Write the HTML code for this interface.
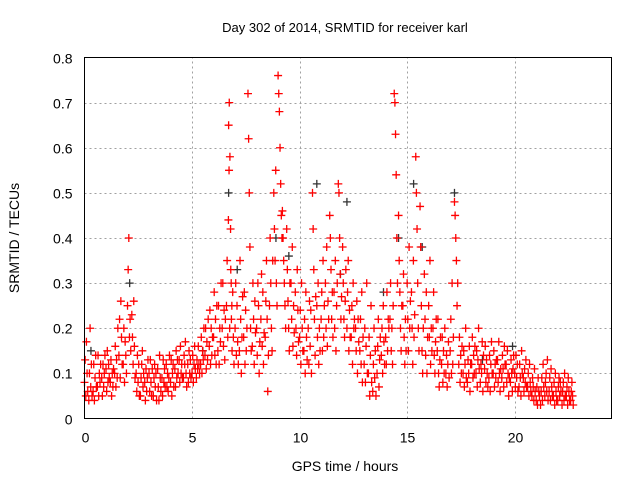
<!DOCTYPE html>
<html><head><meta charset="utf-8"><style>
body{margin:0;background:#fff}
svg{display:block;font-family:"Liberation Sans",sans-serif}
</style></head><body>
<svg id="c" width="640" height="480">
<text x="345" y="32" font-size="13" text-anchor="middle">Day 302 of 2014, SRMTID for receiver karl</text>
<text transform="translate(19,238) rotate(-90)" font-size="14" text-anchor="middle">SRMTID / TECUs</text>
<text x="345" y="471" font-size="14" text-anchor="middle">GPS time / hours</text>
<g id="grid"></g>
<g id="ticks"></g>
<g id="black"></g>
<g id="red"></g>
<rect x="84.5" y="57.5" width="527" height="361" fill="none" stroke="#000"/>
</svg>
<script>
const xTicks=[0,5,10,15,20];
const yTicks=[0,0.1,0.2,0.3,0.4,0.5,0.6,0.7,0.8];
const yTickLabels=["0","0.1","0.2","0.3","0.4","0.5","0.6","0.7","0.8"];
const redHours=[0,0.2,0.4,0.6,0.8,1.0,1.2,1.4,1.6,1.8,2.0,2.2,2.4,2.6,2.8,3.0,3.2,3.4,3.6,3.8,4.0,4.2,4.4,4.6,4.8,5.0,5.2,5.4,5.6,5.8,6.0,6.2,6.4,6.6,6.7,6.8,7.0,7.2,7.4,7.6,7.8,8.0,8.2,8.4,8.6,8.8,9.0,9.2,9.4,9.6,9.8,10.0,10.2,10.4,10.6,10.8,11.0,11.2,11.4,11.6,11.8,12.0,12.2,12.4,12.6,12.8,13.0,13.2,13.4,13.6,13.8,14.0,14.2,14.4,14.6,14.8,15.0,15.2,15.4,15.6,15.8,16.0,16.2,16.4,16.6,16.8,17.0,17.2,17.4,17.6,17.8,18.0,18.2,18.4,18.6,18.8,19.0,19.2,19.4,19.6,19.8,20.0,20.2,20.4,20.6,20.8,21.0,21.2,21.4,21.6,21.8,22.0,22.2,22.4,22.6];
const redValues=[[.08,.13,.05,.17,.1,.06],[.04,.1,.2,.07,.12,.05],[.06,.12,.04,.09,.14,.07],[.07,.14,.05,.1,.08,.12],[.09,.05,.12,.07,.1,.14],[.11,.06,.15,.08,.12,.09],[.08,.13,.05,.1,.07,.11],[.1,.16,.07,.13,.09,.2],[.14,.22,.09,.26,.18,.12],[.12,.2,.08,.17,.14,.1],[.25,.33,.4,.18,.22,.15],[.23,.18,.12,.26,.16,.09],[.1,.06,.14,.08,.12,.05],[.05,.09,.12,.15,.07,.1],[.08,.04,.11,.06,.09,.13],[.1,.06,.13,.08,.05,.11],[.05,.09,.12,.07,.1,.04],[.11,.07,.04,.14,.09,.06],[.09,.05,.13,.08,.11,.07],[.12,.07,.1,.06,.09,.14],[.08,.13,.05,.1,.12,.07],[.11,.07,.15,.09,.13,.1],[.13,.08,.16,.1,.12,.09],[.09,.14,.12,.17,.1,.07],[.12,.08,.15,.1,.13,.09],[.1,.14,.08,.12,.16,.11],[.09,.13,.11,.16,.12,.1],[.12,.18,.1,.15,.13,.2],[.14,.2,.11,.17,.13,.22],[.16,.24,.12,.2,.14,.18],[.18,.28,.14,.22,.12,.25],[.15,.25,.12,.2,.17,.3],[.2,.3,.16,.24,.13,.22],[.25,.35,.18,.44,.55,.2],[.65,.7,.58,.42,.3,.25],[.33,.22,.15,.28,.18,.12],[.2,.3,.14,.25,.17,.12],[.15,.35,.22,.1,.18,.27],[.18,.28,.12,.24,.15,.2],[.72,.62,.5,.38,.2,.15],[.16,.3,.22,.12,.26,.19],[.2,.14,.3,.25,.1,.17],[.22,.32,.16,.28,.12,.19],[.18,.26,.35,.22,.06,.14],[.25,.4,.3,.2,.15,.35],[.5,.42,.35,.55,.3,.25],[.76,.72,.68,.6,.52,.45,.4],[.46,.4,.35,.3,.25,.2],[.42,.33,.26,.2,.15,.3],[.3,.22,.38,.16,.25,.19],[.28,.2,.14,.33,.24,.17],[.18,.24,.12,.3,.2,.15],[.15,.22,.1,.28,.18,.13],[.2,.12,.26,.16,.24,.1],[.5,.42,.33,.22,.14,.27],[.25,.18,.3,.12,.2,.15],[.22,.28,.15,.35,.18,.25],[.3,.2,.38,.16,.26,.22],[.45,.4,.33,.22,.28,.18],[.28,.2,.35,.15,.25,.3],[.52,.5,.4,.32,.22,.27],[.38,.3,.22,.18,.26,.33],[.2,.28,.35,.15,.24,.18],[.18,.25,.12,.3,.2,.22],[.2,.15,.26,.1,.22,.17],[.15,.22,.12,.28,.08,.18],[.12,.2,.08,.16,.3,.1],[.1,.18,.05,.14,.25,.08],[.06,.12,.2,.09,.15,.05],[.1,.16,.22,.07,.13,.18],[.14,.2,.1,.25,.17,.12],[.18,.12,.28,.15,.22,.2],[.22,.3,.15,.2,.12,.25],[.72,.7,.63,.54,.4,.3],[.45,.35,.28,.2,.15,.25],[.25,.32,.18,.12,.22,.15],[.3,.22,.15,.38,.2,.26],[.28,.2,.12,.35,.18,.23],[.58,.5,.42,.3,.2,.15],[.47,.38,.25,.15,.1,.2],[.32,.22,.14,.28,.1,.18],[.25,.18,.35,.12,.2,.15],[.2,.28,.14,.1,.17,.22],[.15,.22,.1,.07,.13,.18],[.12,.18,.08,.15,.1,.2],[.1,.14,.07,.12,.17,.09],[.15,.22,.1,.3,.12,.18],[.48,.45,.4,.35,.25,.3],[.12,.18,.08,.14,.1,.16],[.1,.15,.07,.12,.2,.09],[.08,.13,.1,.16,.06,.12],[.12,.18,.09,.14,.1,.16],[.1,.15,.07,.13,.2,.11],[.08,.12,.1,.17,.06,.14],[.11,.16,.08,.13,.1,.07],[.09,.14,.06,.12,.17,.1],[.1,.15,.07,.12,.09,.13],[.13,.08,.17,.1,.06,.11],[.09,.14,.11,.07,.16,.12],[.12,.08,.15,.1,.05,.09],[.08,.13,.1,.06,.11,.14],[.1,.07,.14,.09,.12,.06],[.07,.12,.09,.05,.15,.1],[.09,.06,.11,.08,.13,.07],[.07,.1,.05,.12,.08,.06],[.05,.09,.07,.04,.11,.06],[.04,.07,.03,.09,.06,.05],[.03,.06,.09,.04,.12,.07],[.05,.08,.1,.06,.13,.04],[.06,.09,.04,.11,.07,.05],[.05,.08,.03,.1,.06,.04],[.04,.07,.09,.05,.08,.06],[.03,.06,.08,.04,.1,.05],[.05,.07,.03,.09,.06,.04],[.04,.06,.08,.05,.03]];
const blackHours=[0.3,2.1,5.5,6.7,7.1,8.9,9.5,10.8,11.9,12.2,13.9,14.6,15.3,15.7,17.2,18.5,19.9];
const blackValues=[.15,.3,.15,.5,.33,.4,.36,.52,.32,.48,.28,.4,.52,.38,.5,.13,.16];
const NS="http://www.w3.org/2000/svg";
const X0=84.5,X1=611.5,Y0=418.5,Y1=57.5,XMAX=24.5,YMAX=0.8;
const sx=h=>X0+h/XMAX*(X1-X0);
const sy=v=>Y0-v/YMAX*(Y0-Y1);
function mk(tag,attrs,parent){const e=document.createElementNS(NS,tag);for(const k in attrs)e.setAttribute(k,attrs[k]);parent.appendChild(e);return e;}
const grid=document.getElementById('grid'),ticks=document.getElementById('ticks');
yTicks.forEach((v,i)=>{const y=Math.round(sy(v))+0.5;
 if(i>0&&i<yTicks.length-1){const g=mk('line',{x1:X0,x2:X1,y1:y,y2:y,stroke:'#a0a0a0','stroke-dasharray':'2,3'},grid);
 
 }
 const t=mk('text',{x:X0-12,y:y+5,'font-size':14,'text-anchor':'end'},ticks);t.textContent=yTickLabels[i];
 
 
});
xTicks.forEach(h=>{const x=Math.round(sx(h))+0.5;
 if(h>0){const g=mk('line',{x1:x,x2:x,y1:Y0,y2:Y1,stroke:'#a0a0a0','stroke-dasharray':'2,3'},grid);
 
 }
 const t=mk('text',{x:x,y:Y0+24,'font-size':14,'text-anchor':'middle'},ticks);t.textContent=String(h);
 
 
});
function plus(x,y,col,parent){return mk('path',{d:`M${x-4},${y}h8M${x},${y-4}v8`,stroke:col,'stroke-width':1.3,fill:'none'},parent);}
const bg=document.getElementById('black');
blackHours.forEach((h,i)=>{const p=plus(sx(h),sy(blackValues[i]),'#333',bg);
 
 });
const rg=document.getElementById('red');
redHours.forEach((h,i)=>{redValues[i].forEach((v,k)=>{const p=plus(sx(h+k*0.03),sy(v),'#f00',rg);
 
 });});
</script>
</body></html>
